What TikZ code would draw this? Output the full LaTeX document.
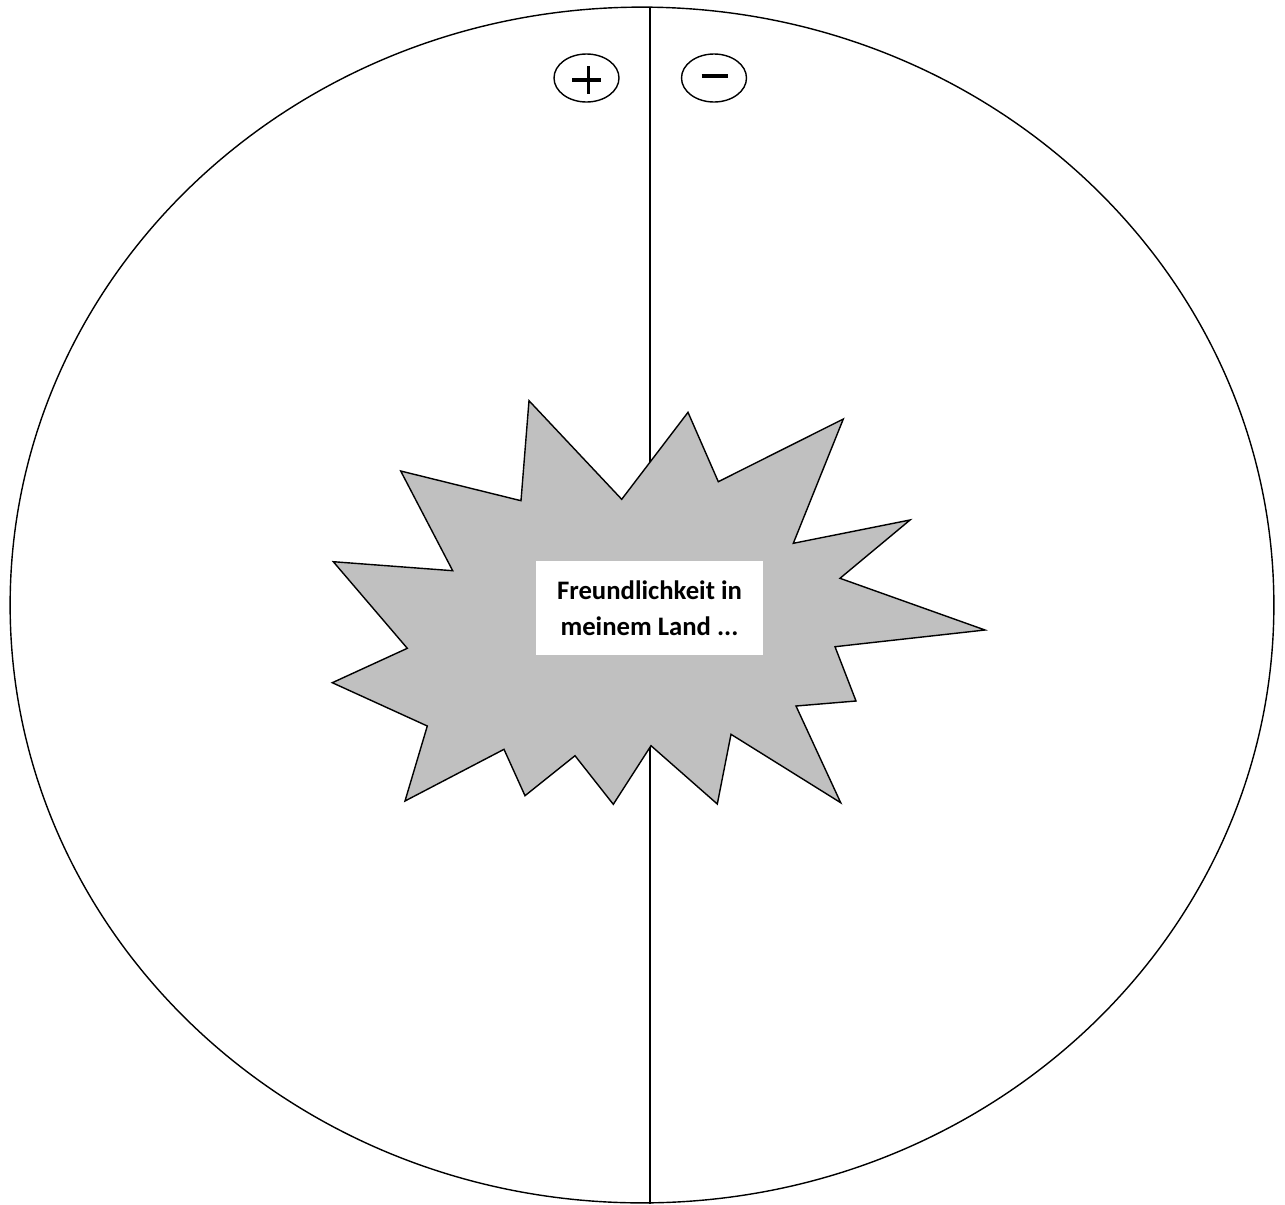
\documentclass[tikz,border=0pt]{standalone}
\usepackage{fontspec}
\setmainfont{Carlito}
\usetikzlibrary{shapes.geometric}
\definecolor{burstgray}{RGB}{192,192,192}
\tikzset{
  outline/.style={draw=black, line width=0.8pt},
  signcircle/.style={ellipse, draw=black, line width=0.8pt, minimum width=65*0.02cm, minimum height=48*0.02cm, inner sep=0pt},
  signbar/.style={line width=2.1pt, line cap=butt},
  labelbox/.style={fill=white, inner sep=0pt, minimum width=227*0.02cm, minimum height=94*0.02cm, align=center,
    font=\bfseries\fontsize{15.2pt}{20.4pt}\selectfont}
}
\begin{document}
\begin{tikzpicture}[x=0.02cm, y=-0.02cm]
\useasboundingbox (0,0) rectangle (1285,1204);
% big ellipse
\draw[outline] (642,605) ellipse [x radius=12.64cm, y radius=11.96cm];
% divider
\coordinate (ltop) at (650,8);
\coordinate (lbot) at (650,1204);
\draw[outline] (ltop) -- (lbot);
% plus / minus circles
\node[signcircle] (plus) at (586.5,78) {};
\node[signcircle] (minus) at (714,78) {};
\draw[signbar] ([xshift=-14.5*0.02cm, yshift=-2*0.02cm]plus.center) -- ([xshift=14.5*0.02cm, yshift=-2*0.02cm]plus.center);
\draw[signbar] ([xshift=2*0.02cm, yshift=12*0.02cm]plus.center) -- ([xshift=2*0.02cm, yshift=-16*0.02cm]plus.center);
\draw[line width=2.4pt] ([xshift=-12.5*0.02cm, yshift=2*0.02cm]minus.center) -- ([xshift=13.5*0.02cm, yshift=2*0.02cm]minus.center);
% starburst
\draw[outline, fill=burstgray, line join=miter]
  (529,400.7) -- (621.7,499.3) -- (688,412.3) -- (718.3,481.7) -- (843.3,419)
  -- (793.3,543.3) -- (910,520) -- (840,578.3) -- (985,630) -- (835,646.7)
  -- (856,701) -- (796,706) -- (840.7,802.7) -- (731,734.3) -- (717.3,804)
  -- (651,745.7) -- (613.3,804.3) -- (575,755.7) -- (525,795.7) -- (504,749.3)
  -- (405,801) -- (427.3,726) -- (332.3,682.7) -- (407.3,648.3) -- (333.3,561.7)
  -- (452.7,570.7) -- (400.7,471) -- (521,500.7) -- cycle;
% label
\node[labelbox] (label) at (649.5,608) {Freundlichkeit in\\meinem Land ...};
\end{tikzpicture}
\end{document}
